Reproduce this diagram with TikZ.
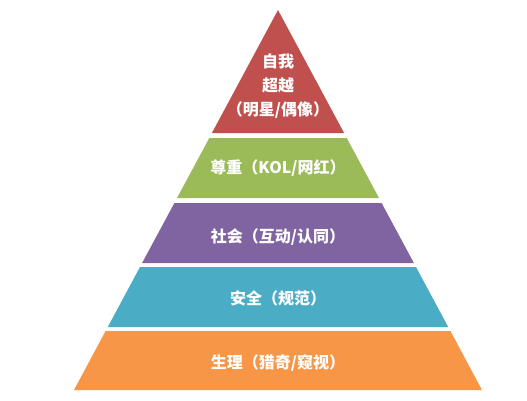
\documentclass[tikz,border=0pt]{standalone}
\usepackage{fontspec}
\newfontfamily\cjk{Noto Sans CJK SC}
\definecolor{lred}{HTML}{C0504D}
\definecolor{lgreen}{HTML}{9BBB59}
\definecolor{lpurple}{HTML}{8064A2}
\definecolor{lblue}{HTML}{4BACC6}
\definecolor{lorange}{HTML}{F79646}
\begin{document}
\begin{tikzpicture}[x=1pt,y=-1pt,
  lbl/.style={text=white,font=\cjk\bfseries\fontsize{16}{24}\selectfont,align=center,inner sep=0pt}]
\useasboundingbox (0,0) rectangle (527,400);
\fill[white] (0,0) rectangle (527,400);
% layers
\fill[lred] (278,10) -- (344.1,133) -- (211.9,133) -- cycle;
\fill[lgreen] (209.3,138) -- (346.7,138) -- (379,198) -- (177,198) -- cycle;
\fill[lpurple] (174.4,203) -- (381.6,203) -- (413.9,263) -- (142.1,263) -- cycle;
\fill[lblue] (140,267) -- (416,267) -- (448.2,327) -- (107.8,327) -- cycle;
\fill[lorange] (105.6,331) -- (450.4,331) -- (482,390) -- (74,390) -- cycle;
% labels
\node[lbl] (t1) at (278,86) {自我\\超越\\（明星/偶像）};
\node[lbl] (t2) at (278,168) {尊重（KOL/网红）};
\node[lbl] (t3) at (278,237) {社会（互动/认同）};
\node[lbl] (t4) at (278,298) {安全（规范）};
\node[lbl] (t5) at (278,363) {生理（猎奇/窥视）};
\end{tikzpicture}
\end{document}
